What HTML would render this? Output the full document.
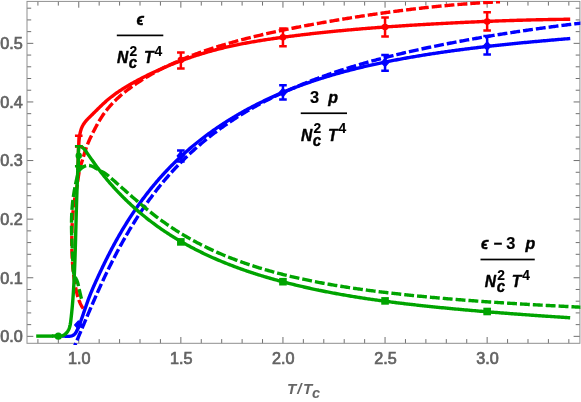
<!DOCTYPE html>
<html><head><meta charset="utf-8"><title>plot</title>
<style>html,body{margin:0;padding:0;background:#fff;width:581px;height:402px;overflow:hidden;font-family:"Liberation Sans",sans-serif}</style>
</head><body>
<div style="will-change:transform;position:absolute;left:0;top:0;width:581px;height:402px">
<svg width="581" height="402" viewBox="0 0 581 402" style="position:absolute;left:0;top:0">
<defs><clipPath id="cp"><rect x="27.0" y="0.8999999999999999" width="553.4" height="344.1"/></clipPath></defs>
<rect width="581" height="402" fill="#fff"/>
<path d="M37.91,343.3 v-4.2 M37.91,1.4 v4.2 M58.33,343.3 v-4.2 M58.33,1.4 v4.2 M78.75,343.3 v-6.3 M78.75,1.4 v6.3 M99.17,343.3 v-4.2 M99.17,1.4 v4.2 M119.59,343.3 v-4.2 M119.59,1.4 v4.2 M140.01,343.3 v-4.2 M140.01,1.4 v4.2 M160.43,343.3 v-4.2 M160.43,1.4 v4.2 M180.85,343.3 v-6.3 M180.85,1.4 v6.3 M201.27,343.3 v-4.2 M201.27,1.4 v4.2 M221.69,343.3 v-4.2 M221.69,1.4 v4.2 M242.11,343.3 v-4.2 M242.11,1.4 v4.2 M262.53,343.3 v-4.2 M262.53,1.4 v4.2 M282.95,343.3 v-6.3 M282.95,1.4 v6.3 M303.37,343.3 v-4.2 M303.37,1.4 v4.2 M323.79,343.3 v-4.2 M323.79,1.4 v4.2 M344.21,343.3 v-4.2 M344.21,1.4 v4.2 M364.63,343.3 v-4.2 M364.63,1.4 v4.2 M385.05,343.3 v-6.3 M385.05,1.4 v6.3 M405.47,343.3 v-4.2 M405.47,1.4 v4.2 M425.89,343.3 v-4.2 M425.89,1.4 v4.2 M446.31,343.3 v-4.2 M446.31,1.4 v4.2 M466.73,343.3 v-4.2 M466.73,1.4 v4.2 M487.15,343.3 v-6.3 M487.15,1.4 v6.3 M507.57,343.3 v-4.2 M507.57,1.4 v4.2 M527.99,343.3 v-4.2 M527.99,1.4 v4.2 M548.41,343.3 v-4.2 M548.41,1.4 v4.2 M568.83,343.3 v-4.2 M568.83,1.4 v4.2 M27.0,336.35 h6.3 M579.9,336.35 h-6.3 M27.0,324.63 h4.2 M579.9,324.63 h-4.2 M27.0,312.91 h4.2 M579.9,312.91 h-4.2 M27.0,301.19 h4.2 M579.9,301.19 h-4.2 M27.0,289.47 h4.2 M579.9,289.47 h-4.2 M27.0,277.75 h6.3 M579.9,277.75 h-6.3 M27.0,266.03 h4.2 M579.9,266.03 h-4.2 M27.0,254.31 h4.2 M579.9,254.31 h-4.2 M27.0,242.59 h4.2 M579.9,242.59 h-4.2 M27.0,230.87 h4.2 M579.9,230.87 h-4.2 M27.0,219.15 h6.3 M579.9,219.15 h-6.3 M27.0,207.43 h4.2 M579.9,207.43 h-4.2 M27.0,195.71 h4.2 M579.9,195.71 h-4.2 M27.0,183.99 h4.2 M579.9,183.99 h-4.2 M27.0,172.27 h4.2 M579.9,172.27 h-4.2 M27.0,160.55 h6.3 M579.9,160.55 h-6.3 M27.0,148.83 h4.2 M579.9,148.83 h-4.2 M27.0,137.11 h4.2 M579.9,137.11 h-4.2 M27.0,125.39 h4.2 M579.9,125.39 h-4.2 M27.0,113.67 h4.2 M579.9,113.67 h-4.2 M27.0,101.95 h6.3 M579.9,101.95 h-6.3 M27.0,90.23 h4.2 M579.9,90.23 h-4.2 M27.0,78.51 h4.2 M579.9,78.51 h-4.2 M27.0,66.79 h4.2 M579.9,66.79 h-4.2 M27.0,55.07 h4.2 M579.9,55.07 h-4.2 M27.0,43.35 h6.3 M579.9,43.35 h-6.3 M27.0,31.63 h4.2 M579.9,31.63 h-4.2 M27.0,19.91 h4.2 M579.9,19.91 h-4.2 M27.0,8.19 h4.2 M579.9,8.19 h-4.2" stroke="#606060" stroke-width="0.9" fill="none"/>
<rect x="27.0" y="1.4" width="552.9" height="341.90000000000003" fill="none" stroke="#8f8f8f" stroke-width="1"/>
<g clip-path="url(#cp)" fill="none" stroke-linejoin="round">
<path d="M77.80,170.00 L77.86,168.78 L77.92,167.57 L77.97,166.36 L78.02,165.16 L78.06,163.95 L78.10,162.75 L78.14,161.55 L78.17,160.35 L78.20,159.15 L78.23,157.95 L78.27,156.76 L78.30,155.56 L78.33,154.36 L78.37,153.17 L78.41,151.97 L78.45,150.77 L78.50,149.58 L78.55,148.38 L78.60,147.18 L78.67,145.97 L78.74,144.77 L78.82,143.56 L78.91,142.36 L79.01,141.15 L79.12,139.94 L79.25,138.74 L79.40,137.53 L79.56,136.33 L79.75,135.12 L79.95,133.93 L80.19,132.74 L80.47,131.57 L80.78,130.41 L81.14,129.27 L81.55,128.15 L82.02,127.06 L82.54,126.00 L83.11,124.97 L83.73,123.96 L84.39,122.98 L85.10,122.02 L85.85,121.09 L86.64,120.19 L87.45,119.31 L88.29,118.44 L89.15,117.58 L90.02,116.74 L90.89,115.89 L91.76,115.04 L92.62,114.19 L93.49,113.34 L94.35,112.49 L95.21,111.63 L96.07,110.78 L96.92,109.93 L97.78,109.08 L98.64,108.23 L99.50,107.39 L100.36,106.55 L101.23,105.71 L102.10,104.88 L102.98,104.06 L103.86,103.24 L104.74,102.43 L105.64,101.63 L106.53,100.84 L107.44,100.06 L108.36,99.28 L109.28,98.52 L110.21,97.77 L111.15,97.03 L112.10,96.30 L113.05,95.57 L114.02,94.86 L114.98,94.15 L115.96,93.45 L116.94,92.76 L117.93,92.08 L118.92,91.41 L119.92,90.74 L120.92,90.08 L121.93,89.43 L122.95,88.79 L123.97,88.15 L124.99,87.52 L126.02,86.89 L127.05,86.27 L128.09,85.66 L129.13,85.05 L130.17,84.45 L131.22,83.85 L132.27,83.26 L133.32,82.67 L134.38,82.09 L135.44,81.51 L136.50,80.94 L137.56,80.37 L138.62,79.80 L139.69,79.24 L140.76,78.68 L141.83,78.12 L142.90,77.57 L143.97,77.02 L145.05,76.48 L146.13,75.93 L147.21,75.40 L148.29,74.86 L149.37,74.33 L150.45,73.81 L151.54,73.29 L152.63,72.77 L153.72,72.25 L154.81,71.74 L155.90,71.24 L157.00,70.73 L158.09,70.23 L159.19,69.74 L160.29,69.25 L161.39,68.76 L162.49,68.27 L163.60,67.79 L164.70,67.32 L165.81,66.84 L166.92,66.37 L168.03,65.91 L169.14,65.45 L170.26,64.99 L171.37,64.53 L172.49,64.08 L173.61,63.64 L174.73,63.19 L175.85,62.75 L176.97,62.32 L178.09,61.89 L179.22,61.46 L180.34,61.04 L181.47,60.62 L182.60,60.20 L183.73,59.79 L184.86,59.38 L186.00,58.97 L187.13,58.57 L188.27,58.17 L189.40,57.78 L190.54,57.39 L191.68,57.00 L192.82,56.62 L193.96,56.24 L195.11,55.87 L196.25,55.50 L197.40,55.13 L198.54,54.76 L199.69,54.40 L200.84,54.05 L201.99,53.70 L203.14,53.35 L204.30,53.00 L205.45,52.66 L206.60,52.33 L207.76,51.99 L208.92,51.66 L210.07,51.34 L211.23,51.01 L212.39,50.70 L213.55,50.38 L214.71,50.07 L215.88,49.77 L217.04,49.46 L218.20,49.16 L219.37,48.87 L220.54,48.58 L221.70,48.29 L222.87,48.00 L224.04,47.72 L225.21,47.45 L226.38,47.17 L227.55,46.90 L228.72,46.63 L229.90,46.37 L231.07,46.11 L232.25,45.85 L233.42,45.60 L234.60,45.35 L235.77,45.10 L236.95,44.86 L238.13,44.61 L239.31,44.37 L240.49,44.14 L241.67,43.91 L242.85,43.68 L244.03,43.45 L245.21,43.22 L246.39,43.00 L247.58,42.78 L248.76,42.57 L249.94,42.35 L251.13,42.14 L252.31,41.93 L253.50,41.73 L254.69,41.52 L255.87,41.32 L257.06,41.12 L258.25,40.92 L259.44,40.73 L260.62,40.53 L261.81,40.34 L263.00,40.15 L264.19,39.97 L265.38,39.78 L266.57,39.60 L267.76,39.42 L268.96,39.24 L270.15,39.06 L271.34,38.89 L272.53,38.71 L273.72,38.54 L274.92,38.37 L276.11,38.20 L277.30,38.03 L278.49,37.87 L279.69,37.70 L280.88,37.54 L282.07,37.38 L283.27,37.21 L284.46,37.05 L285.66,36.90 L286.85,36.74 L288.04,36.58 L289.24,36.43 L290.43,36.27 L291.63,36.12 L292.82,35.97 L294.02,35.82 L295.21,35.67 L296.41,35.52 L297.60,35.37 L298.80,35.22 L299.99,35.08 L301.19,34.93 L302.38,34.79 L303.58,34.65 L304.77,34.51 L305.97,34.37 L307.17,34.23 L308.36,34.09 L309.56,33.95 L310.75,33.81 L311.95,33.68 L313.15,33.54 L314.34,33.41 L315.54,33.28 L316.74,33.14 L317.93,33.01 L319.13,32.88 L320.32,32.75 L321.52,32.63 L322.72,32.50 L323.92,32.37 L325.11,32.25 L326.31,32.12 L327.51,32.00 L328.70,31.88 L329.90,31.76 L331.10,31.63 L332.30,31.51 L333.49,31.40 L334.69,31.28 L335.89,31.16 L337.09,31.04 L338.28,30.93 L339.48,30.81 L340.68,30.70 L341.88,30.59 L343.08,30.47 L344.27,30.36 L345.47,30.25 L346.67,30.14 L347.87,30.03 L349.07,29.92 L350.27,29.82 L351.46,29.71 L352.66,29.60 L353.86,29.50 L355.06,29.39 L356.26,29.29 L357.46,29.19 L358.66,29.09 L359.86,28.98 L361.05,28.88 L362.25,28.78 L363.45,28.68 L364.65,28.59 L365.85,28.49 L367.05,28.39 L368.25,28.29 L369.45,28.20 L370.65,28.10 L371.85,28.01 L373.05,27.92 L374.25,27.82 L375.45,27.73 L376.65,27.64 L377.85,27.55 L379.05,27.46 L380.25,27.37 L381.45,27.28 L382.65,27.19 L383.85,27.10 L385.05,27.02 L386.25,26.93 L387.45,26.84 L388.65,26.76 L389.85,26.67 L391.05,26.59 L392.25,26.51 L393.45,26.42 L394.65,26.34 L395.85,26.26 L397.05,26.18 L398.25,26.10 L399.45,26.02 L400.65,25.94 L401.85,25.86 L403.05,25.78 L404.26,25.70 L405.46,25.63 L406.66,25.55 L407.86,25.47 L409.06,25.40 L410.26,25.32 L411.46,25.25 L412.66,25.17 L413.86,25.10 L415.06,25.02 L416.27,24.95 L417.47,24.88 L418.67,24.81 L419.87,24.74 L421.07,24.66 L422.27,24.59 L423.47,24.52 L424.68,24.45 L425.88,24.38 L427.08,24.32 L428.28,24.25 L429.48,24.18 L430.68,24.11 L431.88,24.04 L433.09,23.98 L434.29,23.91 L435.49,23.84 L436.69,23.78 L437.89,23.71 L439.10,23.65 L440.30,23.58 L441.50,23.52 L442.70,23.46 L443.90,23.39 L445.10,23.33 L446.31,23.27 L447.51,23.20 L448.71,23.14 L449.91,23.08 L451.12,23.02 L452.32,22.96 L453.52,22.90 L454.72,22.84 L455.92,22.78 L457.13,22.72 L458.33,22.66 L459.53,22.60 L460.73,22.54 L461.93,22.49 L463.14,22.43 L464.34,22.37 L465.54,22.32 L466.74,22.26 L467.95,22.20 L469.15,22.15 L470.35,22.09 L471.55,22.04 L472.76,21.99 L473.96,21.93 L475.16,21.88 L476.36,21.83 L477.57,21.78 L478.77,21.72 L479.97,21.67 L481.17,21.62 L482.38,21.57 L483.58,21.52 L484.78,21.47 L485.98,21.42 L487.19,21.38 L488.39,21.33 L489.59,21.28 L490.80,21.23 L492.00,21.19 L493.20,21.14 L494.40,21.09 L495.61,21.05 L496.81,21.01 L498.01,20.96 L499.21,20.92 L500.42,20.87 L501.62,20.83 L502.82,20.79 L504.03,20.75 L505.23,20.71 L506.43,20.66 L507.63,20.62 L508.84,20.58 L510.04,20.55 L511.24,20.51 L512.45,20.47 L513.65,20.43 L514.85,20.39 L516.06,20.36 L517.26,20.32 L518.46,20.28 L519.66,20.25 L520.87,20.21 L522.07,20.18 L523.27,20.15 L524.48,20.11 L525.68,20.08 L526.88,20.05 L528.09,20.02 L529.29,19.98 L530.49,19.95 L531.70,19.92 L532.90,19.89 L534.10,19.87 L535.31,19.84 L536.51,19.81 L537.71,19.78 L538.91,19.76 L540.12,19.73 L541.32,19.70 L542.52,19.68 L543.73,19.65 L544.93,19.63 L546.13,19.61 L547.34,19.58 L548.54,19.56 L549.74,19.54 L550.95,19.52 L552.15,19.50 L553.35,19.48 L554.56,19.46 L555.76,19.44 L556.96,19.42 L558.17,19.40 L559.37,19.39 L560.57,19.37 L561.78,19.35 L562.98,19.34 L564.18,19.32 L565.39,19.31 L566.59,19.30 L567.79,19.28 L569.00,19.27 L570.20,19.26" stroke="#ff0000" stroke-width="3.4"/>
<path d="M83.30,308.60 L82.61,307.61 L81.96,306.59 L81.36,305.55 L80.80,304.49 L80.27,303.41 L79.78,302.32 L79.33,301.21 L78.90,300.09 L78.50,298.96 L78.13,297.81 L77.78,296.66 L77.45,295.50 L77.14,294.33 L76.85,293.16 L76.57,291.99 L76.30,290.81 L76.04,289.64 L75.79,288.46 L75.55,287.28 L75.33,286.10 L75.11,284.91 L74.90,283.73 L74.70,282.54 L74.51,281.36 L74.33,280.17 L74.16,278.98 L74.00,277.79 L73.84,276.60 L73.69,275.41 L73.55,274.21 L73.42,273.02 L73.29,271.82 L73.16,270.63 L73.05,269.43 L72.94,268.23 L72.83,267.04 L72.73,265.84 L72.64,264.64 L72.55,263.44 L72.47,262.24 L72.39,261.04 L72.31,259.84 L72.24,258.64 L72.18,257.43 L72.12,256.23 L72.07,255.03 L72.02,253.83 L71.97,252.62 L71.93,251.42 L71.90,250.22 L71.87,249.01 L71.84,247.81 L71.82,246.61 L71.80,245.40 L71.79,244.20 L71.78,242.99 L71.78,241.79 L71.78,240.58 L71.79,239.38 L71.79,238.18 L71.81,236.97 L71.82,235.77 L71.85,234.56 L71.87,233.36 L71.90,232.16 L71.93,230.95 L71.97,229.75 L72.01,228.55 L72.06,227.35 L72.10,226.15 L72.16,224.94 L72.21,223.74 L72.28,222.54 L72.34,221.34 L72.41,220.14 L72.49,218.94 L72.57,217.74 L72.66,216.55 L72.75,215.35 L72.85,214.15 L72.95,212.96 L73.06,211.76 L73.18,210.57 L73.30,209.37 L73.44,208.18 L73.57,206.98 L73.72,205.79 L73.87,204.60 L74.03,203.41 L74.20,202.22 L74.38,201.03 L74.57,199.84 L74.76,198.65 L74.96,197.47 L75.16,196.28 L75.37,195.09 L75.58,193.91 L75.80,192.72 L76.01,191.53 L76.22,190.35 L76.44,189.16 L76.65,187.97 L76.85,186.79 L77.05,185.60 L77.25,184.41 L77.44,183.22 L77.62,182.03 L77.79,180.83 L77.96,179.64 L78.12,178.45 L78.29,177.25 L78.46,176.06 L78.64,174.88 L78.83,173.69 L79.04,172.51 L79.26,171.33 L79.51,170.16 L79.78,168.99 L80.07,167.83 L80.39,166.67 L80.72,165.52 L81.06,164.37 L81.42,163.22 L81.78,162.07 L82.14,160.92 L82.50,159.77 L82.85,158.62 L83.20,157.46 L83.55,156.31 L83.90,155.15 L84.25,154.00 L84.60,152.84 L84.96,151.69 L85.32,150.55 L85.70,149.40 L86.08,148.27 L86.48,147.13 L86.89,146.01 L87.32,144.89 L87.76,143.78 L88.22,142.68 L88.68,141.58 L89.16,140.48 L89.65,139.39 L90.16,138.31 L90.67,137.22 L91.19,136.14 L91.71,135.07 L92.25,133.99 L92.79,132.92 L93.33,131.85 L93.89,130.77 L94.44,129.70 L95.00,128.63 L95.56,127.56 L96.13,126.49 L96.70,125.42 L97.29,124.36 L97.87,123.30 L98.47,122.25 L99.08,121.20 L99.69,120.16 L100.32,119.12 L100.95,118.10 L101.60,117.08 L102.26,116.08 L102.94,115.08 L103.63,114.09 L104.33,113.12 L105.04,112.15 L105.76,111.20 L106.50,110.25 L107.24,109.31 L108.00,108.39 L108.77,107.47 L109.55,106.56 L110.35,105.67 L111.15,104.78 L111.96,103.90 L112.78,103.03 L113.61,102.17 L114.46,101.31 L115.31,100.47 L116.17,99.64 L117.04,98.81 L117.91,97.99 L118.80,97.18 L119.69,96.38 L120.60,95.58 L121.51,94.80 L122.42,94.02 L123.35,93.25 L124.28,92.48 L125.22,91.73 L126.17,90.98 L127.12,90.24 L128.08,89.51 L129.04,88.78 L130.01,88.06 L130.99,87.35 L131.97,86.64 L132.95,85.94 L133.94,85.25 L134.94,84.56 L135.94,83.88 L136.94,83.21 L137.95,82.54 L138.96,81.88 L139.98,81.22 L141.00,80.57 L142.02,79.92 L143.04,79.29 L144.07,78.65 L145.10,78.02 L146.13,77.40 L147.17,76.78 L148.20,76.17 L149.24,75.56 L150.29,74.96 L151.33,74.37 L152.38,73.77 L153.43,73.19 L154.49,72.61 L155.54,72.03 L156.60,71.46 L157.66,70.89 L158.72,70.33 L159.79,69.78 L160.86,69.22 L161.93,68.68 L163.00,68.14 L164.07,67.60 L165.15,67.07 L166.23,66.54 L167.31,66.02 L168.39,65.50 L169.48,64.98 L170.57,64.47 L171.66,63.97 L172.75,63.47 L173.84,62.97 L174.94,62.48 L176.04,61.99 L177.13,61.51 L178.24,61.03 L179.34,60.55 L180.44,60.08 L181.55,59.62 L182.66,59.15 L183.77,58.69 L184.88,58.24 L186.00,57.79 L187.11,57.34 L188.23,56.90 L189.35,56.46 L190.47,56.02 L191.59,55.59 L192.71,55.16 L193.84,54.74 L194.96,54.32 L196.09,53.90 L197.22,53.49 L198.35,53.08 L199.48,52.67 L200.62,52.27 L201.75,51.87 L202.89,51.47 L204.03,51.08 L205.16,50.69 L206.30,50.30 L207.44,49.92 L208.59,49.53 L209.73,49.16 L210.87,48.78 L212.02,48.41 L213.17,48.04 L214.31,47.68 L215.46,47.31 L216.61,46.95 L217.76,46.60 L218.91,46.24 L220.06,45.89 L221.22,45.54 L222.37,45.20 L223.52,44.85 L224.68,44.51 L225.83,44.17 L226.99,43.84 L228.15,43.50 L229.30,43.17 L230.46,42.84 L231.62,42.52 L232.78,42.19 L233.94,41.87 L235.10,41.55 L236.26,41.23 L237.42,40.92 L238.59,40.60 L239.75,40.29 L240.91,39.98 L242.07,39.68 L243.24,39.37 L244.40,39.07 L245.57,38.77 L246.73,38.47 L247.90,38.17 L249.07,37.88 L250.23,37.59 L251.40,37.30 L252.57,37.01 L253.74,36.72 L254.91,36.44 L256.07,36.15 L257.24,35.87 L258.41,35.59 L259.58,35.32 L260.76,35.04 L261.93,34.77 L263.10,34.49 L264.27,34.22 L265.44,33.96 L266.62,33.69 L267.79,33.42 L268.96,33.16 L270.14,32.90 L271.31,32.64 L272.49,32.38 L273.66,32.12 L274.84,31.87 L276.01,31.61 L277.19,31.36 L278.36,31.11 L279.54,30.86 L280.72,30.61 L281.90,30.36 L283.07,30.12 L284.25,29.87 L285.43,29.63 L286.61,29.39 L287.79,29.15 L288.97,28.91 L290.15,28.68 L291.33,28.44 L292.51,28.21 L293.69,27.97 L294.87,27.74 L296.05,27.51 L297.23,27.28 L298.41,27.05 L299.59,26.82 L300.77,26.60 L301.96,26.37 L303.14,26.15 L304.32,25.92 L305.50,25.70 L306.69,25.48 L307.87,25.26 L309.05,25.04 L310.23,24.82 L311.42,24.60 L312.60,24.39 L313.79,24.17 L314.97,23.96 L316.15,23.74 L317.34,23.53 L318.52,23.32 L319.71,23.11 L320.89,22.90 L322.08,22.69 L323.26,22.48 L324.45,22.27 L325.63,22.06 L326.82,21.85 L328.00,21.65 L329.19,21.44 L330.38,21.24 L331.56,21.03 L332.75,20.83 L333.93,20.63 L335.12,20.43 L336.31,20.23 L337.49,20.03 L338.68,19.83 L339.87,19.63 L341.05,19.43 L342.24,19.23 L343.43,19.04 L344.62,18.84 L345.80,18.65 L346.99,18.45 L348.18,18.26 L349.37,18.07 L350.56,17.88 L351.74,17.69 L352.93,17.50 L354.12,17.31 L355.31,17.12 L356.50,16.93 L357.69,16.75 L358.88,16.56 L360.06,16.38 L361.25,16.19 L362.44,16.01 L363.63,15.83 L364.82,15.65 L366.01,15.47 L367.20,15.29 L368.39,15.11 L369.58,14.93 L370.77,14.76 L371.96,14.58 L373.15,14.41 L374.34,14.23 L375.53,14.06 L376.72,13.89 L377.91,13.72 L379.11,13.55 L380.30,13.38 L381.49,13.21 L382.68,13.04 L383.87,12.87 L385.06,12.71 L386.25,12.54 L387.45,12.38 L388.64,12.22 L389.83,12.05 L391.02,11.89 L392.21,11.73 L393.41,11.57 L394.60,11.42 L395.79,11.26 L396.98,11.10 L398.18,10.95 L399.37,10.79 L400.56,10.64 L401.76,10.49 L402.95,10.34 L404.14,10.19 L405.34,10.04 L406.53,9.89 L407.73,9.74 L408.92,9.59 L410.11,9.45 L411.31,9.31 L412.50,9.16 L413.70,9.02 L414.89,8.88 L416.09,8.74 L417.28,8.60 L418.48,8.46 L419.67,8.33 L420.87,8.19 L422.06,8.05 L423.26,7.92 L424.45,7.79 L425.65,7.66 L426.84,7.53 L428.04,7.40 L429.24,7.27 L430.43,7.14 L431.63,7.01 L432.83,6.89 L434.02,6.77 L435.22,6.64 L436.42,6.52 L437.61,6.40 L438.81,6.28 L440.01,6.16 L441.20,6.04 L442.40,5.93 L443.60,5.81 L444.80,5.70 L445.99,5.59 L447.19,5.47 L448.39,5.36 L449.59,5.25 L450.79,5.15 L451.98,5.04 L453.18,4.93 L454.38,4.83 L455.58,4.72 L456.78,4.62 L457.98,4.52 L459.18,4.42 L460.38,4.32 L461.58,4.22 L462.77,4.13 L463.97,4.03 L465.17,3.94 L466.37,3.84 L467.57,3.75 L468.77,3.66 L469.97,3.57 L471.17,3.48 L472.37,3.40 L473.57,3.31 L474.77,3.23 L475.98,3.14 L477.18,3.06 L478.38,2.98 L479.58,2.90 L480.78,2.82 L481.98,2.75 L483.18,2.67 L484.38,2.60 L485.58,2.52 L486.79,2.45 L487.99,2.38 L489.19,2.31 L490.39,2.24 L491.59,2.18 L492.80,2.11 L494.00,2.05 L495.20,1.98 L496.40,1.92 L497.61,1.86 L498.81,1.80 L500.01,1.74" stroke="#ff0000" stroke-width="3.4" stroke-dasharray="9.9 3.0" stroke-dashoffset="0"/>
<path d="M61.96,336.01 L63.13,336.04 L64.35,336.12 L65.61,336.22 L66.89,336.31 L68.16,336.35 L69.39,336.32 L70.57,336.17 L71.69,335.91 L72.73,335.52 L73.68,334.98 L74.53,334.29 L75.28,333.45 L75.95,332.50 L76.55,331.47 L77.09,330.37 L77.60,329.23 L78.09,328.08 L78.55,326.94 L79.01,325.80 L79.45,324.66 L79.89,323.53 L80.31,322.39 L80.73,321.26 L81.14,320.13 L81.54,318.99 L81.94,317.85 L82.34,316.72 L82.74,315.58 L83.13,314.44 L83.52,313.31 L83.91,312.17 L84.30,311.03 L84.69,309.89 L85.08,308.75 L85.47,307.62 L85.86,306.48 L86.25,305.34 L86.65,304.21 L87.05,303.08 L87.45,301.94 L87.86,300.81 L88.27,299.69 L88.69,298.56 L89.12,297.43 L89.55,296.31 L89.99,295.19 L90.43,294.07 L90.88,292.96 L91.34,291.84 L91.80,290.73 L92.27,289.62 L92.75,288.51 L93.22,287.41 L93.71,286.30 L94.19,285.20 L94.68,284.09 L95.18,282.99 L95.67,281.89 L96.17,280.80 L96.67,279.70 L97.17,278.60 L97.68,277.51 L98.18,276.41 L98.69,275.32 L99.20,274.23 L99.71,273.13 L100.22,272.04 L100.73,270.95 L101.25,269.86 L101.77,268.78 L102.29,267.69 L102.81,266.60 L103.33,265.52 L103.86,264.44 L104.38,263.35 L104.91,262.27 L105.45,261.19 L105.98,260.11 L106.52,259.04 L107.05,257.96 L107.59,256.89 L108.14,255.81 L108.68,254.74 L109.23,253.67 L109.78,252.60 L110.34,251.53 L110.89,250.46 L111.45,249.40 L112.01,248.33 L112.58,247.27 L113.14,246.21 L113.71,245.15 L114.28,244.09 L114.86,243.03 L115.44,241.98 L116.02,240.93 L116.61,239.87 L117.19,238.82 L117.78,237.77 L118.38,236.73 L118.97,235.68 L119.58,234.64 L120.18,233.59 L120.79,232.55 L121.40,231.51 L122.01,230.48 L122.62,229.44 L123.24,228.41 L123.87,227.37 L124.49,226.34 L125.12,225.32 L125.75,224.29 L126.39,223.27 L127.03,222.24 L127.67,221.22 L128.32,220.21 L128.97,219.19 L129.62,218.18 L130.27,217.16 L130.93,216.15 L131.59,215.15 L132.26,214.14 L132.93,213.14 L133.60,212.14 L134.27,211.14 L134.95,210.14 L135.64,209.15 L136.32,208.16 L137.01,207.17 L137.70,206.18 L138.40,205.20 L139.10,204.22 L139.80,203.24 L140.50,202.26 L141.21,201.29 L141.93,200.31 L142.64,199.35 L143.36,198.38 L144.08,197.42 L144.81,196.46 L145.54,195.50 L146.27,194.54 L147.01,193.59 L147.75,192.64 L148.49,191.69 L149.24,190.75 L149.99,189.81 L150.75,188.87 L151.50,187.93 L152.27,187.00 L153.03,186.07 L153.80,185.14 L154.57,184.22 L155.35,183.30 L156.12,182.38 L156.91,181.47 L157.69,180.56 L158.48,179.65 L159.28,178.74 L160.07,177.84 L160.87,176.94 L161.68,176.05 L162.49,175.15 L163.30,174.27 L164.11,173.38 L164.93,172.50 L165.75,171.62 L166.58,170.74 L167.40,169.87 L168.24,169.00 L169.07,168.13 L169.91,167.27 L170.75,166.41 L171.60,165.56 L172.45,164.70 L173.30,163.85 L174.15,163.01 L175.01,162.17 L175.88,161.33 L176.74,160.49 L177.61,159.66 L178.48,158.83 L179.36,158.00 L180.24,157.18 L181.12,156.36 L182.00,155.55 L182.89,154.74 L183.78,153.93 L184.68,153.12 L185.58,152.32 L186.48,151.52 L187.38,150.73 L188.29,149.94 L189.20,149.15 L190.11,148.37 L191.03,147.59 L191.95,146.81 L192.88,146.04 L193.80,145.27 L194.73,144.51 L195.66,143.74 L196.60,142.99 L197.54,142.23 L198.48,141.48 L199.42,140.73 L200.37,139.99 L201.32,139.25 L202.28,138.51 L203.23,137.78 L204.19,137.05 L205.15,136.33 L206.12,135.61 L207.09,134.89 L208.06,134.17 L209.03,133.46 L210.01,132.76 L210.99,132.05 L211.97,131.35 L212.95,130.66 L213.94,129.96 L214.93,129.27 L215.92,128.59 L216.91,127.91 L217.91,127.23 L218.91,126.55 L219.91,125.88 L220.92,125.22 L221.92,124.55 L222.93,123.89 L223.95,123.24 L224.96,122.58 L225.98,121.93 L227.00,121.29 L228.02,120.64 L229.04,120.01 L230.07,119.37 L231.09,118.74 L232.12,118.11 L233.16,117.49 L234.19,116.87 L235.23,116.25 L236.27,115.63 L237.31,115.02 L238.35,114.42 L239.40,113.81 L240.44,113.21 L241.49,112.62 L242.54,112.02 L243.60,111.43 L244.65,110.85 L245.71,110.27 L246.77,109.69 L247.83,109.11 L248.89,108.54 L249.95,107.97 L251.02,107.41 L252.09,106.85 L253.16,106.29 L254.23,105.73 L255.30,105.18 L256.37,104.64 L257.45,104.09 L258.53,103.55 L259.61,103.02 L260.69,102.48 L261.77,101.95 L262.85,101.43 L263.94,100.90 L265.03,100.38 L266.11,99.87 L267.20,99.35 L268.29,98.84 L269.39,98.34 L270.48,97.84 L271.57,97.34 L272.67,96.84 L273.77,96.35 L274.87,95.86 L275.97,95.37 L277.07,94.89 L278.17,94.41 L279.28,93.94 L280.38,93.47 L281.49,93.00 L282.60,92.53 L283.71,92.07 L284.82,91.61 L285.93,91.15 L287.04,90.70 L288.16,90.25 L289.27,89.80 L290.39,89.36 L291.51,88.92 L292.63,88.48 L293.75,88.05 L294.87,87.61 L295.99,87.19 L297.11,86.76 L298.24,86.34 L299.36,85.92 L300.49,85.50 L301.62,85.09 L302.75,84.68 L303.88,84.27 L305.01,83.87 L306.14,83.46 L307.28,83.07 L308.41,82.67 L309.55,82.28 L310.68,81.89 L311.82,81.50 L312.96,81.11 L314.10,80.73 L315.24,80.35 L316.38,79.98 L317.52,79.60 L318.67,79.23 L319.81,78.86 L320.96,78.50 L322.10,78.13 L323.25,77.77 L324.40,77.42 L325.55,77.06 L326.70,76.71 L327.85,76.36 L329.00,76.01 L330.15,75.67 L331.31,75.33 L332.46,74.99 L333.61,74.65 L334.77,74.32 L335.93,73.98 L337.08,73.65 L338.24,73.33 L339.40,73.00 L340.56,72.68 L341.72,72.36 L342.88,72.04 L344.05,71.73 L345.21,71.42 L346.37,71.10 L347.54,70.80 L348.70,70.49 L349.87,70.19 L351.03,69.89 L352.20,69.59 L353.37,69.29 L354.54,69.00 L355.71,68.70 L356.88,68.41 L358.05,68.13 L359.22,67.84 L360.39,67.56 L361.56,67.28 L362.73,67.00 L363.91,66.72 L365.08,66.44 L366.25,66.17 L367.43,65.90 L368.60,65.63 L369.78,65.36 L370.96,65.10 L372.13,64.84 L373.31,64.58 L374.49,64.32 L375.67,64.06 L376.85,63.80 L378.03,63.55 L379.21,63.30 L380.39,63.05 L381.57,62.80 L382.75,62.56 L383.93,62.31 L385.11,62.07 L386.30,61.83 L387.48,61.59 L388.66,61.35 L389.85,61.12 L391.03,60.89 L392.21,60.65 L393.40,60.42 L394.58,60.20 L395.77,59.97 L396.96,59.75 L398.14,59.52 L399.33,59.30 L400.51,59.08 L401.70,58.86 L402.89,58.64 L404.08,58.43 L405.26,58.22 L406.45,58.00 L407.64,57.79 L408.83,57.58 L410.02,57.38 L411.20,57.17 L412.39,56.96 L413.58,56.76 L414.77,56.56 L415.96,56.36 L417.15,56.16 L418.34,55.96 L419.53,55.76 L420.72,55.57 L421.91,55.37 L423.10,55.18 L424.29,54.99 L425.48,54.80 L426.67,54.61 L427.86,54.42 L429.05,54.24 L430.24,54.05 L431.43,53.87 L432.62,53.69 L433.81,53.50 L435.01,53.32 L436.20,53.15 L437.39,52.97 L438.58,52.79 L439.77,52.61 L440.96,52.44 L442.15,52.27 L443.34,52.09 L444.53,51.92 L445.73,51.75 L446.92,51.58 L448.11,51.42 L449.30,51.25 L450.49,51.08 L451.68,50.92 L452.88,50.76 L454.07,50.59 L455.26,50.43 L456.45,50.27 L457.64,50.11 L458.84,49.95 L460.03,49.80 L461.22,49.64 L462.41,49.48 L463.61,49.33 L464.80,49.18 L465.99,49.02 L467.19,48.87 L468.38,48.72 L469.57,48.57 L470.77,48.42 L471.96,48.27 L473.15,48.13 L474.35,47.98 L475.54,47.84 L476.73,47.69 L477.93,47.55 L479.12,47.41 L480.32,47.27 L481.51,47.12 L482.70,46.98 L483.90,46.85 L485.09,46.71 L486.29,46.57 L487.48,46.43 L488.68,46.30 L489.87,46.16 L491.07,46.03 L492.26,45.90 L493.46,45.76 L494.65,45.63 L495.85,45.50 L497.04,45.37 L498.24,45.24 L499.43,45.11 L500.63,44.98 L501.83,44.86 L503.02,44.73 L504.22,44.60 L505.42,44.48 L506.61,44.36 L507.81,44.23 L509.01,44.11 L510.20,43.99 L511.40,43.86 L512.60,43.74 L513.79,43.62 L514.99,43.50 L516.19,43.38 L517.39,43.26 L518.59,43.15 L519.78,43.03 L520.98,42.91 L522.18,42.80 L523.38,42.68 L524.58,42.56 L525.78,42.45 L526.97,42.34 L528.17,42.22 L529.37,42.11 L530.57,42.00 L531.77,41.89 L532.97,41.77 L534.17,41.66 L535.37,41.55 L536.57,41.44 L537.77,41.33 L538.97,41.22 L540.17,41.12 L541.37,41.01 L542.57,40.90 L543.77,40.79 L544.98,40.69 L546.18,40.58 L547.38,40.47 L548.58,40.37 L549.78,40.26 L550.98,40.16 L552.18,40.05 L553.39,39.95 L554.59,39.84 L555.79,39.74 L556.99,39.64 L558.20,39.54 L559.40,39.43 L560.60,39.33 L561.81,39.23 L563.01,39.13 L564.21,39.03 L565.42,38.93 L566.62,38.82 L567.83,38.72 L569.03,38.62 L570.24,38.52" stroke="#0000ff" stroke-width="3.4"/>
<path d="M74.47,346.29 L74.94,345.19 L75.40,344.09 L75.87,342.99 L76.34,341.89 L76.81,340.79 L77.27,339.69 L77.74,338.59 L78.20,337.49 L78.67,336.39 L79.14,335.29 L79.60,334.19 L80.07,333.08 L80.53,331.98 L81.00,330.88 L81.46,329.77 L81.93,328.67 L82.40,327.56 L82.86,326.46 L83.33,325.36 L83.79,324.25 L84.26,323.15 L84.73,322.04 L85.20,320.94 L85.66,319.83 L86.13,318.73 L86.60,317.62 L87.07,316.52 L87.54,315.41 L88.01,314.30 L88.48,313.20 L88.95,312.09 L89.43,310.99 L89.90,309.88 L90.37,308.78 L90.85,307.67 L91.32,306.57 L91.80,305.47 L92.28,304.36 L92.76,303.26 L93.24,302.15 L93.72,301.05 L94.20,299.95 L94.68,298.85 L95.17,297.74 L95.65,296.64 L96.14,295.54 L96.63,294.44 L97.12,293.34 L97.61,292.24 L98.10,291.14 L98.60,290.04 L99.09,288.94 L99.59,287.84 L100.09,286.75 L100.59,285.65 L101.09,284.55 L101.59,283.46 L102.10,282.36 L102.61,281.27 L103.12,280.17 L103.63,279.08 L104.14,277.99 L104.65,276.90 L105.17,275.81 L105.69,274.72 L106.21,273.63 L106.73,272.54 L107.26,271.45 L107.79,270.37 L108.31,269.28 L108.85,268.20 L109.38,267.11 L109.91,266.03 L110.45,264.95 L110.99,263.87 L111.53,262.79 L112.08,261.71 L112.62,260.63 L113.17,259.56 L113.72,258.48 L114.27,257.41 L114.83,256.34 L115.38,255.27 L115.94,254.20 L116.50,253.13 L117.07,252.06 L117.63,250.99 L118.20,249.93 L118.77,248.87 L119.35,247.80 L119.92,246.74 L120.50,245.68 L121.08,244.62 L121.66,243.57 L122.25,242.51 L122.83,241.46 L123.42,240.41 L124.02,239.36 L124.61,238.31 L125.21,237.26 L125.81,236.22 L126.41,235.17 L127.02,234.13 L127.63,233.09 L128.24,232.05 L128.85,231.01 L129.47,229.98 L130.08,228.94 L130.71,227.91 L131.33,226.88 L131.96,225.85 L132.58,224.83 L133.22,223.80 L133.85,222.78 L134.49,221.76 L135.13,220.74 L135.77,219.72 L136.42,218.71 L137.07,217.70 L137.72,216.69 L138.37,215.68 L139.03,214.67 L139.69,213.67 L140.35,212.66 L141.02,211.66 L141.69,210.67 L142.36,209.67 L143.04,208.68 L143.72,207.69 L144.40,206.70 L145.08,205.71 L145.77,204.72 L146.46,203.74 L147.15,202.76 L147.85,201.79 L148.55,200.81 L149.25,199.84 L149.96,198.87 L150.67,197.90 L151.38,196.93 L152.09,195.97 L152.81,195.01 L153.54,194.05 L154.26,193.10 L154.99,192.15 L155.72,191.20 L156.46,190.25 L157.19,189.30 L157.94,188.36 L158.68,187.42 L159.43,186.49 L160.18,185.55 L160.94,184.62 L161.70,183.69 L162.46,182.77 L163.22,181.85 L163.99,180.93 L164.76,180.01 L165.54,179.10 L166.32,178.19 L167.10,177.28 L167.89,176.37 L168.68,175.47 L169.47,174.57 L170.27,173.68 L171.07,172.78 L171.88,171.89 L172.69,171.01 L173.50,170.12 L174.31,169.24 L175.13,168.37 L175.95,167.49 L176.78,166.62 L177.61,165.75 L178.44,164.89 L179.28,164.03 L180.12,163.17 L180.97,162.31 L181.81,161.46 L182.66,160.61 L183.52,159.77 L184.38,158.93 L185.24,158.09 L186.10,157.25 L186.97,156.42 L187.84,155.59 L188.72,154.76 L189.59,153.94 L190.48,153.12 L191.36,152.31 L192.25,151.49 L193.14,150.68 L194.03,149.88 L194.93,149.08 L195.83,148.28 L196.73,147.48 L197.64,146.69 L198.55,145.90 L199.46,145.11 L200.38,144.33 L201.30,143.55 L202.22,142.78 L203.14,142.00 L204.07,141.23 L205.00,140.47 L205.93,139.71 L206.87,138.95 L207.81,138.19 L208.75,137.44 L209.70,136.69 L210.64,135.95 L211.59,135.21 L212.55,134.47 L213.50,133.73 L214.46,133.00 L215.42,132.28 L216.39,131.55 L217.35,130.83 L218.32,130.12 L219.30,129.40 L220.27,128.69 L221.25,127.99 L222.23,127.28 L223.21,126.58 L224.19,125.89 L225.18,125.20 L226.17,124.51 L227.16,123.82 L228.16,123.14 L229.15,122.47 L230.15,121.79 L231.16,121.12 L232.16,120.46 L233.17,119.79 L234.18,119.13 L235.19,118.48 L236.20,117.83 L237.22,117.18 L238.23,116.53 L239.25,115.89 L240.28,115.26 L241.30,114.62 L242.33,113.99 L243.36,113.37 L244.39,112.75 L245.42,112.13 L246.46,111.51 L247.49,110.90 L248.53,110.29 L249.57,109.69 L250.62,109.09 L251.66,108.49 L252.71,107.90 L253.76,107.31 L254.81,106.72 L255.86,106.14 L256.92,105.56 L257.97,104.99 L259.03,104.42 L260.09,103.85 L261.15,103.28 L262.22,102.72 L263.28,102.16 L264.35,101.61 L265.42,101.05 L266.49,100.51 L267.56,99.96 L268.63,99.42 L269.71,98.88 L270.79,98.34 L271.87,97.81 L272.95,97.28 L274.03,96.76 L275.11,96.23 L276.20,95.71 L277.28,95.20 L278.37,94.68 L279.46,94.17 L280.55,93.67 L281.64,93.16 L282.74,92.66 L283.83,92.16 L284.93,91.67 L286.03,91.17 L287.13,90.68 L288.23,90.20 L289.33,89.71 L290.43,89.23 L291.54,88.75 L292.64,88.28 L293.75,87.81 L294.86,87.34 L295.96,86.87 L297.07,86.40 L298.19,85.94 L299.30,85.48 L300.41,85.03 L301.53,84.57 L302.64,84.12 L303.76,83.68 L304.88,83.23 L305.99,82.79 L307.11,82.35 L308.23,81.91 L309.36,81.47 L310.48,81.04 L311.60,80.61 L312.73,80.18 L313.85,79.75 L314.98,79.33 L316.10,78.91 L317.23,78.49 L318.36,78.08 L319.49,77.66 L320.62,77.25 L321.75,76.84 L322.88,76.43 L324.01,76.03 L325.14,75.63 L326.28,75.23 L327.41,74.83 L328.55,74.44 L329.68,74.04 L330.82,73.65 L331.96,73.26 L333.10,72.88 L334.24,72.49 L335.38,72.11 L336.52,71.73 L337.66,71.35 L338.80,70.98 L339.94,70.60 L341.09,70.23 L342.23,69.86 L343.38,69.50 L344.52,69.13 L345.67,68.77 L346.81,68.41 L347.96,68.05 L349.11,67.69 L350.26,67.34 L351.41,66.99 L352.56,66.64 L353.71,66.29 L354.86,65.94 L356.01,65.60 L357.17,65.25 L358.32,64.91 L359.47,64.57 L360.63,64.24 L361.78,63.90 L362.94,63.57 L364.09,63.24 L365.25,62.91 L366.41,62.58 L367.57,62.25 L368.72,61.93 L369.88,61.61 L371.04,61.29 L372.20,60.97 L373.36,60.65 L374.53,60.34 L375.69,60.02 L376.85,59.71 L378.01,59.40 L379.17,59.09 L380.34,58.79 L381.50,58.48 L382.67,58.18 L383.83,57.88 L385.00,57.58 L386.16,57.28 L387.33,56.99 L388.50,56.69 L389.66,56.40 L390.83,56.11 L392.00,55.82 L393.17,55.53 L394.34,55.24 L395.51,54.95 L396.68,54.67 L397.85,54.39 L399.02,54.11 L400.19,53.83 L401.36,53.55 L402.53,53.27 L403.71,53.00 L404.88,52.72 L406.05,52.45 L407.22,52.18 L408.40,51.91 L409.57,51.64 L410.75,51.38 L411.92,51.11 L413.10,50.85 L414.27,50.59 L415.45,50.32 L416.62,50.06 L417.80,49.81 L418.98,49.55 L420.15,49.29 L421.33,49.04 L422.51,48.78 L423.68,48.53 L424.86,48.28 L426.04,48.03 L427.22,47.78 L428.40,47.53 L429.58,47.29 L430.76,47.04 L431.93,46.80 L433.11,46.56 L434.29,46.31 L435.47,46.07 L436.65,45.83 L437.83,45.60 L439.01,45.36 L440.20,45.12 L441.38,44.89 L442.56,44.65 L443.74,44.42 L444.92,44.19 L446.10,43.95 L447.28,43.72 L448.47,43.49 L449.65,43.27 L450.83,43.04 L452.01,42.81 L453.19,42.59 L454.38,42.36 L455.56,42.14 L456.74,41.92 L457.92,41.69 L459.11,41.47 L460.29,41.25 L461.47,41.03 L462.66,40.81 L463.84,40.60 L465.02,40.38 L466.21,40.16 L467.39,39.95 L468.57,39.74 L469.76,39.52 L470.94,39.31 L472.13,39.10 L473.31,38.89 L474.49,38.68 L475.68,38.47 L476.86,38.26 L478.05,38.05 L479.23,37.85 L480.42,37.64 L481.60,37.44 L482.79,37.23 L483.97,37.03 L485.16,36.83 L486.34,36.63 L487.53,36.43 L488.71,36.23 L489.90,36.03 L491.09,35.83 L492.27,35.64 L493.46,35.44 L494.65,35.24 L495.83,35.05 L497.02,34.86 L498.20,34.66 L499.39,34.47 L500.58,34.28 L501.77,34.09 L502.95,33.90 L504.14,33.71 L505.33,33.52 L506.52,33.34 L507.70,33.15 L508.89,32.97 L510.08,32.78 L511.27,32.60 L512.46,32.41 L513.64,32.23 L514.83,32.05 L516.02,31.87 L517.21,31.69 L518.40,31.51 L519.59,31.33 L520.78,31.15 L521.97,30.98 L523.16,30.80 L524.35,30.63 L525.54,30.45 L526.73,30.28 L527.92,30.11 L529.11,29.93 L530.30,29.76 L531.49,29.59 L532.68,29.42 L533.87,29.25 L535.06,29.08 L536.25,28.92 L537.44,28.75 L538.63,28.58 L539.82,28.42 L541.02,28.25 L542.21,28.09 L543.40,27.93 L544.59,27.76 L545.78,27.60 L546.98,27.44 L548.17,27.28 L549.36,27.12 L550.55,26.96 L551.75,26.80 L552.94,26.65 L554.13,26.49 L555.33,26.33 L556.52,26.18 L557.71,26.02 L558.91,25.87 L560.10,25.72 L561.30,25.57 L562.49,25.41 L563.68,25.26 L564.88,25.11 L566.07,24.96 L567.27,24.81 L568.46,24.67 L569.66,24.52 L570.85,24.37 L572.05,24.23 L573.24,24.08 L574.44,23.93 L575.64,23.79 L576.83,23.65 L578.03,23.50 L579.23,23.36 L580.42,23.22 L581.62,23.08 L582.82,22.94 L584.01,22.80" stroke="#0000ff" stroke-width="3.4" stroke-dasharray="9.9 3.0" stroke-dashoffset="6.4"/>
<path d="M36.2,336.1 H53" stroke="#00a400" stroke-width="3.4"/>
<path d="M52.01,336.10 L53.12,336.00 L54.30,335.99 L55.53,336.04 L56.79,336.12 L58.07,336.18 L59.33,336.19 L60.57,336.11 L61.76,335.90 L62.88,335.54 L63.93,335.04 L64.91,334.40 L65.81,333.65 L66.63,332.79 L67.38,331.84 L68.04,330.82 L68.62,329.74 L69.12,328.62 L69.53,327.47 L69.87,326.30 L70.14,325.11 L70.37,323.90 L70.55,322.69 L70.71,321.47 L70.85,320.26 L70.99,319.05 L71.13,317.84 L71.27,316.64 L71.40,315.44 L71.53,314.25 L71.65,313.05 L71.77,311.85 L71.89,310.66 L72.01,309.46 L72.12,308.26 L72.23,307.06 L72.34,305.86 L72.45,304.66 L72.55,303.46 L72.65,302.26 L72.74,301.06 L72.84,299.85 L72.93,298.65 L73.02,297.45 L73.11,296.24 L73.19,295.04 L73.27,293.83 L73.35,292.62 L73.43,291.42 L73.51,290.21 L73.58,289.00 L73.65,287.80 L73.72,286.59 L73.79,285.38 L73.86,284.17 L73.93,282.97 L73.99,281.76 L74.05,280.55 L74.11,279.34 L74.17,278.13 L74.23,276.93 L74.29,275.72 L74.34,274.51 L74.40,273.30 L74.45,272.09 L74.50,270.89 L74.56,269.68 L74.61,268.47 L74.66,267.26 L74.70,266.05 L74.75,264.85 L74.80,263.64 L74.84,262.43 L74.89,261.22 L74.93,260.02 L74.97,258.81 L75.01,257.60 L75.05,256.39 L75.09,255.18 L75.13,253.98 L75.17,252.77 L75.21,251.56 L75.25,250.35 L75.28,249.15 L75.32,247.94 L75.35,246.73 L75.39,245.52 L75.42,244.32 L75.46,243.11 L75.49,241.90 L75.53,240.69 L75.56,239.49 L75.59,238.28 L75.62,237.07 L75.66,235.86 L75.69,234.66 L75.72,233.45 L75.75,232.24 L75.78,231.03 L75.81,229.83 L75.85,228.62 L75.88,227.41 L75.91,226.20 L75.94,225.00 L75.97,223.79 L76.00,222.58 L76.04,221.37 L76.07,220.17 L76.10,218.96 L76.13,217.75 L76.16,216.54 L76.20,215.34 L76.23,214.13 L76.26,212.92 L76.30,211.71 L76.33,210.51 L76.37,209.30 L76.40,208.09 L76.44,206.88 L76.48,205.67 L76.51,204.47 L76.55,203.26 L76.59,202.05 L76.63,200.84 L76.67,199.64 L76.71,198.43 L76.75,197.22 L76.79,196.01 L76.83,194.81 L76.88,193.60 L76.92,192.39 L76.96,191.18 L77.01,189.97 L77.05,188.77 L77.10,187.56 L77.14,186.35 L77.19,185.14 L77.24,183.94 L77.28,182.73 L77.33,181.52 L77.38,180.31 L77.42,179.10 L77.47,177.90 L77.52,176.69 L77.56,175.48 L77.61,174.27 L77.66,173.07 L77.71,171.86 L77.75,170.65 L77.80,169.44 L77.85,168.23 L77.89,167.03 L77.94,165.82 L77.98,164.61 L78.03,163.40 L78.07,162.20 L78.12,160.99 L78.16,159.78 L78.21,158.57 L78.25,157.37 L78.29,156.16 L78.33,154.95 L78.37,153.74 L78.41,152.54 L78.45,151.33 L78.49,150.12 L78.53,148.92 L78.57,147.71 L78.60,146.50" stroke="#00a400" stroke-width="3.4"/>
<path d="M78.67,146.25 L79.88,146.34 L80.97,146.63 L81.96,147.12 L82.87,147.76 L83.71,148.53 L84.49,149.40 L85.23,150.35 L85.95,151.35 L86.65,152.36 L87.34,153.38 L88.04,154.38 L88.74,155.39 L89.43,156.39 L90.13,157.39 L90.82,158.38 L91.52,159.37 L92.21,160.35 L92.91,161.33 L93.61,162.31 L94.31,163.28 L95.01,164.26 L95.72,165.22 L96.43,166.19 L97.14,167.15 L97.85,168.10 L98.57,169.06 L99.29,170.01 L100.02,170.96 L100.75,171.90 L101.49,172.85 L102.23,173.79 L102.98,174.72 L103.73,175.66 L104.48,176.59 L105.24,177.52 L106.01,178.44 L106.77,179.37 L107.55,180.28 L108.33,181.20 L109.11,182.11 L109.89,183.02 L110.68,183.93 L111.48,184.83 L112.28,185.73 L113.08,186.63 L113.89,187.52 L114.70,188.41 L115.52,189.30 L116.34,190.19 L117.16,191.07 L117.99,191.94 L118.83,192.82 L119.66,193.69 L120.50,194.55 L121.35,195.42 L122.20,196.28 L123.05,197.13 L123.91,197.98 L124.77,198.83 L125.63,199.68 L126.50,200.52 L127.37,201.36 L128.25,202.19 L129.12,203.02 L130.01,203.85 L130.89,204.67 L131.78,205.49 L132.68,206.30 L133.57,207.12 L134.48,207.92 L135.38,208.73 L136.29,209.53 L137.20,210.32 L138.11,211.11 L139.03,211.90 L139.95,212.68 L140.87,213.46 L141.80,214.24 L142.73,215.01 L143.67,215.77 L144.60,216.54 L145.54,217.29 L146.49,218.05 L147.43,218.80 L148.38,219.54 L149.34,220.29 L150.29,221.02 L151.25,221.75 L152.21,222.48 L153.18,223.21 L154.14,223.92 L155.11,224.64 L156.09,225.35 L157.06,226.06 L158.04,226.76 L159.02,227.45 L160.01,228.14 L160.99,228.83 L161.98,229.52 L162.97,230.19 L163.97,230.87 L164.97,231.54 L165.97,232.20 L166.97,232.86 L167.97,233.52 L168.98,234.17 L169.99,234.82 L171.00,235.47 L172.02,236.11 L173.04,236.74 L174.06,237.37 L175.08,238.00 L176.10,238.62 L177.13,239.24 L178.16,239.85 L179.19,240.47 L180.23,241.07 L181.26,241.67 L182.30,242.27 L183.34,242.87 L184.39,243.46 L185.43,244.04 L186.48,244.62 L187.53,245.20 L188.58,245.78 L189.64,246.35 L190.69,246.91 L191.75,247.47 L192.81,248.03 L193.88,248.59 L194.94,249.14 L196.01,249.68 L197.08,250.23 L198.15,250.77 L199.22,251.30 L200.30,251.83 L201.37,252.36 L202.45,252.89 L203.53,253.41 L204.62,253.92 L205.70,254.44 L206.79,254.95 L207.88,255.45 L208.97,255.96 L210.06,256.45 L211.15,256.95 L212.25,257.44 L213.34,257.93 L214.44,258.41 L215.54,258.89 L216.65,259.37 L217.75,259.85 L218.86,260.32 L219.96,260.79 L221.07,261.25 L222.18,261.71 L223.29,262.17 L224.41,262.62 L225.52,263.07 L226.64,263.52 L227.76,263.96 L228.88,264.40 L230.00,264.84 L231.12,265.28 L232.24,265.71 L233.37,266.14 L234.50,266.56 L235.62,266.98 L236.75,267.40 L237.88,267.82 L239.02,268.23 L240.15,268.64 L241.28,269.04 L242.42,269.45 L243.56,269.85 L244.70,270.24 L245.83,270.64 L246.98,271.03 L248.12,271.42 L249.26,271.80 L250.40,272.19 L251.55,272.56 L252.70,272.94 L253.84,273.32 L254.99,273.69 L256.14,274.05 L257.29,274.42 L258.44,274.78 L259.59,275.14 L260.75,275.50 L261.90,275.85 L263.06,276.21 L264.21,276.56 L265.37,276.90 L266.52,277.25 L267.68,277.59 L268.84,277.93 L270.00,278.26 L271.16,278.60 L272.32,278.93 L273.49,279.25 L274.65,279.58 L275.81,279.90 L276.98,280.22 L278.14,280.54 L279.31,280.86 L280.47,281.17 L281.64,281.48 L282.81,281.79 L283.97,282.10 L285.14,282.40 L286.31,282.71 L287.48,283.01 L288.65,283.30 L289.82,283.60 L290.99,283.89 L292.16,284.18 L293.33,284.47 L294.51,284.76 L295.68,285.04 L296.85,285.32 L298.02,285.60 L299.20,285.88 L300.37,286.15 L301.54,286.43 L302.72,286.70 L303.89,286.97 L305.07,287.24 L306.24,287.50 L307.42,287.76 L308.59,288.03 L309.77,288.28 L310.95,288.54 L312.12,288.80 L313.30,289.05 L314.48,289.30 L315.65,289.55 L316.83,289.80 L318.01,290.04 L319.19,290.29 L320.37,290.53 L321.55,290.77 L322.73,291.01 L323.91,291.24 L325.09,291.48 L326.27,291.71 L327.45,291.94 L328.63,292.17 L329.81,292.40 L330.99,292.62 L332.17,292.85 L333.35,293.07 L334.54,293.29 L335.72,293.51 L336.90,293.72 L338.08,293.94 L339.27,294.15 L340.45,294.36 L341.63,294.57 L342.82,294.78 L344.00,294.99 L345.19,295.20 L346.37,295.40 L347.56,295.60 L348.74,295.80 L349.93,296.00 L351.11,296.20 L352.30,296.39 L353.48,296.59 L354.67,296.78 L355.86,296.97 L357.04,297.16 L358.23,297.35 L359.42,297.54 L360.61,297.72 L361.79,297.91 L362.98,298.09 L364.17,298.27 L365.36,298.45 L366.55,298.63 L367.74,298.81 L368.93,298.98 L370.12,299.16 L371.30,299.33 L372.49,299.50 L373.68,299.67 L374.87,299.84 L376.07,300.01 L377.26,300.18 L378.45,300.34 L379.64,300.51 L380.83,300.67 L382.02,300.83 L383.21,300.99 L384.40,301.15 L385.59,301.31 L386.79,301.47 L387.98,301.63 L389.17,301.78 L390.36,301.93 L391.56,302.09 L392.75,302.24 L393.94,302.39 L395.14,302.54 L396.33,302.69 L397.52,302.84 L398.72,302.98 L399.91,303.13 L401.10,303.27 L402.30,303.42 L403.49,303.56 L404.69,303.70 L405.88,303.84 L407.08,303.98 L408.27,304.12 L409.47,304.26 L410.66,304.39 L411.86,304.53 L413.05,304.67 L414.25,304.80 L415.44,304.93 L416.64,305.07 L417.84,305.20 L419.03,305.33 L420.23,305.46 L421.43,305.59 L422.62,305.72 L423.82,305.85 L425.02,305.97 L426.21,306.10 L427.41,306.23 L428.61,306.35 L429.80,306.48 L431.00,306.60 L432.20,306.72 L433.40,306.85 L434.59,306.97 L435.79,307.09 L436.99,307.21 L438.19,307.33 L439.39,307.45 L440.58,307.57 L441.78,307.69 L442.98,307.81 L444.18,307.92 L445.38,308.04 L446.58,308.16 L447.77,308.27 L448.97,308.39 L450.17,308.50 L451.37,308.62 L452.57,308.73 L453.77,308.84 L454.97,308.95 L456.17,309.07 L457.37,309.18 L458.57,309.29 L459.77,309.40 L460.96,309.51 L462.16,309.62 L463.36,309.73 L464.56,309.83 L465.76,309.94 L466.96,310.05 L468.16,310.16 L469.36,310.26 L470.56,310.37 L471.76,310.47 L472.96,310.58 L474.16,310.68 L475.36,310.78 L476.56,310.89 L477.76,310.99 L478.96,311.09 L480.16,311.19 L481.36,311.30 L482.56,311.40 L483.76,311.50 L484.96,311.60 L486.17,311.70 L487.37,311.80 L488.57,311.89 L489.77,311.99 L490.97,312.09 L492.17,312.19 L493.37,312.28 L494.57,312.38 L495.77,312.48 L496.97,312.57 L498.17,312.67 L499.37,312.76 L500.57,312.86 L501.77,312.95 L502.97,313.04 L504.17,313.14 L505.38,313.23 L506.58,313.32 L507.78,313.41 L508.98,313.51 L510.18,313.60 L511.38,313.69 L512.58,313.78 L513.78,313.87 L514.98,313.96 L516.18,314.05 L517.38,314.14 L518.58,314.23 L519.78,314.32 L520.99,314.40 L522.19,314.49 L523.39,314.58 L524.59,314.67 L525.79,314.75 L526.99,314.84 L528.19,314.92 L529.39,315.01 L530.59,315.10 L531.79,315.18 L532.99,315.27 L534.19,315.35 L535.39,315.44 L536.59,315.52 L537.79,315.60 L538.99,315.69 L540.19,315.77 L541.39,315.85 L542.59,315.93 L543.79,316.02 L544.99,316.10 L546.19,316.18 L547.39,316.26 L548.59,316.34 L549.79,316.42 L550.99,316.51 L552.19,316.59 L553.39,316.67 L554.59,316.75 L555.79,316.83 L556.99,316.91 L558.19,316.98 L559.39,317.06 L560.59,317.14 L561.79,317.22 L562.99,317.30 L564.19,317.38 L565.39,317.46 L566.58,317.53 L567.78,317.61 L568.98,317.69 L570.18,317.77" stroke="#00a400" stroke-width="3.4"/>
<path d="M82.22,301.49 L81.89,300.34 L81.56,299.18 L81.25,298.02 L80.95,296.86 L80.66,295.69 L80.38,294.52 L80.10,293.35 L79.83,292.18 L79.56,291.00 L79.30,289.83 L79.04,288.65 L78.79,287.48 L78.54,286.30 L78.28,285.13 L78.01,283.96 L77.70,282.81 L77.34,281.67 L76.91,280.55 L76.39,279.46 L75.82,278.39 L75.25,277.32 L74.75,276.23 L74.33,275.12 L73.98,273.99 L73.69,272.84 L73.47,271.68 L73.29,270.51 L73.16,269.32 L73.06,268.13 L72.99,266.93 L72.93,265.72 L72.89,264.51 L72.86,263.30 L72.83,262.09 L72.79,260.88 L72.74,259.68 L72.70,258.47 L72.65,257.26 L72.60,256.06 L72.54,254.86 L72.49,253.65 L72.43,252.45 L72.38,251.25 L72.32,250.05 L72.26,248.85 L72.20,247.65 L72.15,246.45 L72.09,245.25 L72.03,244.05 L71.98,242.85 L71.93,241.65 L71.88,240.45 L71.83,239.25 L71.78,238.05 L71.74,236.85 L71.70,235.65 L71.66,234.45 L71.63,233.25 L71.60,232.04 L71.58,230.84 L71.56,229.64 L71.54,228.44 L71.53,227.24 L71.52,226.04 L71.52,224.84 L71.52,223.63 L71.53,222.43 L71.54,221.23 L71.56,220.03 L71.58,218.83 L71.62,217.63 L71.65,216.43 L71.70,215.23 L71.75,214.03 L71.81,212.83 L71.87,211.63 L71.94,210.43 L72.02,209.23 L72.11,208.03 L72.21,206.84 L72.31,205.64 L72.42,204.44 L72.54,203.25 L72.67,202.05 L72.81,200.85 L72.96,199.66 L73.11,198.46 L73.27,197.27 L73.45,196.08 L73.62,194.89 L73.81,193.70 L74.00,192.51 L74.20,191.32 L74.41,190.13 L74.63,188.95 L74.85,187.76 L75.07,186.58 L75.31,185.40 L75.55,184.22 L75.79,183.04 L76.04,181.87 L76.30,180.70 L76.56,179.52 L76.83,178.36 L77.10,177.19 L77.37,176.02 L77.65,174.86 L77.96,173.71 L78.32,172.59 L78.76,171.51 L79.32,170.48 L80.02,169.53 L80.88,168.65 L81.86,167.86 L82.91,167.15 L84.01,166.54 L85.15,166.04 L86.32,165.67 L87.49,165.45 L88.65,165.40 L89.80,165.53 L90.93,165.82 L92.04,166.23 L93.13,166.73 L94.21,167.30 L95.27,167.90 L96.32,168.52 L97.37,169.14 L98.41,169.75 L99.46,170.34 L100.52,170.91 L101.59,171.47 L102.67,172.02 L103.73,172.58 L104.77,173.19 L105.77,173.84 L106.74,174.54 L107.68,175.28 L108.61,176.05 L109.52,176.83 L110.43,177.62 L111.34,178.40 L112.24,179.19 L113.15,179.99 L114.05,180.78 L114.96,181.57 L115.86,182.37 L116.76,183.16 L117.67,183.96 L118.57,184.75 L119.47,185.55 L120.37,186.34 L121.27,187.14 L122.17,187.94 L123.07,188.73 L123.97,189.53 L124.87,190.33 L125.77,191.12 L126.67,191.92 L127.57,192.71 L128.47,193.51 L129.37,194.30 L130.27,195.09 L131.18,195.89 L132.08,196.68 L132.99,197.47 L133.89,198.25 L134.80,199.04 L135.71,199.83 L136.62,200.61 L137.53,201.39 L138.44,202.18 L139.35,202.95 L140.27,203.73 L141.18,204.51 L142.10,205.28 L143.02,206.05 L143.95,206.82 L144.87,207.58 L145.80,208.35 L146.73,209.11 L147.66,209.87 L148.59,210.62 L149.53,211.37 L150.47,212.12 L151.41,212.87 L152.35,213.61 L153.30,214.35 L154.25,215.09 L155.20,215.82 L156.16,216.55 L157.12,217.27 L158.08,217.99 L159.05,218.71 L160.01,219.42 L160.99,220.13 L161.96,220.84 L162.94,221.54 L163.92,222.24 L164.90,222.93 L165.89,223.62 L166.88,224.31 L167.87,224.99 L168.87,225.67 L169.86,226.34 L170.86,227.02 L171.87,227.68 L172.87,228.34 L173.88,229.00 L174.90,229.66 L175.91,230.31 L176.93,230.95 L177.95,231.60 L178.97,232.23 L179.99,232.87 L181.02,233.50 L182.05,234.12 L183.08,234.74 L184.12,235.36 L185.15,235.97 L186.19,236.58 L187.23,237.19 L188.28,237.79 L189.33,238.38 L190.37,238.98 L191.42,239.56 L192.48,240.15 L193.53,240.72 L194.59,241.30 L195.65,241.87 L196.71,242.43 L197.77,242.99 L198.84,243.55 L199.91,244.10 L200.98,244.65 L202.05,245.19 L203.12,245.73 L204.20,246.27 L205.28,246.80 L206.36,247.33 L207.44,247.85 L208.52,248.37 L209.61,248.88 L210.69,249.39 L211.78,249.90 L212.87,250.40 L213.96,250.90 L215.06,251.39 L216.15,251.88 L217.25,252.37 L218.35,252.85 L219.45,253.33 L220.56,253.80 L221.66,254.27 L222.77,254.74 L223.87,255.20 L224.98,255.66 L226.09,256.11 L227.21,256.56 L228.32,257.01 L229.44,257.46 L230.55,257.90 L231.67,258.33 L232.79,258.76 L233.91,259.19 L235.04,259.62 L236.16,260.04 L237.29,260.46 L238.41,260.87 L239.54,261.29 L240.67,261.69 L241.80,262.10 L242.94,262.50 L244.07,262.90 L245.20,263.29 L246.34,263.68 L247.48,264.07 L248.62,264.45 L249.76,264.83 L250.90,265.21 L252.04,265.59 L253.18,265.96 L254.33,266.32 L255.47,266.69 L256.62,267.05 L257.77,267.41 L258.92,267.76 L260.07,268.12 L261.22,268.47 L262.37,268.81 L263.52,269.16 L264.68,269.50 L265.83,269.83 L266.99,270.17 L268.14,270.50 L269.30,270.83 L270.46,271.15 L271.62,271.48 L272.78,271.80 L273.94,272.11 L275.10,272.43 L276.26,272.74 L277.43,273.05 L278.59,273.36 L279.76,273.66 L280.92,273.96 L282.09,274.26 L283.25,274.55 L284.42,274.85 L285.59,275.14 L286.76,275.43 L287.93,275.71 L289.10,276.00 L290.27,276.28 L291.44,276.55 L292.61,276.83 L293.78,277.10 L294.95,277.38 L296.13,277.64 L297.30,277.91 L298.47,278.17 L299.65,278.44 L300.82,278.70 L301.99,278.95 L303.17,279.21 L304.35,279.46 L305.52,279.71 L306.70,279.96 L307.88,280.21 L309.05,280.45 L310.23,280.69 L311.41,280.93 L312.59,281.17 L313.77,281.41 L314.94,281.64 L316.12,281.87 L317.30,282.10 L318.48,282.33 L319.66,282.55 L320.85,282.78 L322.03,283.00 L323.21,283.22 L324.39,283.44 L325.57,283.65 L326.76,283.87 L327.94,284.08 L329.12,284.29 L330.31,284.50 L331.49,284.71 L332.67,284.91 L333.86,285.11 L335.04,285.32 L336.23,285.52 L337.41,285.71 L338.60,285.91 L339.79,286.10 L340.97,286.30 L342.16,286.49 L343.34,286.68 L344.53,286.87 L345.72,287.05 L346.91,287.24 L348.09,287.42 L349.28,287.60 L350.47,287.78 L351.66,287.96 L352.85,288.14 L354.04,288.31 L355.23,288.49 L356.42,288.66 L357.61,288.83 L358.80,289.00 L359.99,289.17 L361.18,289.34 L362.37,289.50 L363.56,289.67 L364.75,289.83 L365.94,289.99 L367.13,290.15 L368.32,290.31 L369.52,290.47 L370.71,290.63 L371.90,290.78 L373.09,290.94 L374.29,291.09 L375.48,291.24 L376.67,291.39 L377.86,291.54 L379.06,291.69 L380.25,291.84 L381.44,291.98 L382.64,292.13 L383.83,292.27 L385.02,292.42 L386.22,292.56 L387.41,292.70 L388.61,292.84 L389.80,292.98 L391.00,293.12 L392.19,293.26 L393.38,293.39 L394.58,293.53 L395.77,293.66 L396.97,293.80 L398.16,293.93 L399.36,294.06 L400.55,294.19 L401.75,294.32 L402.94,294.45 L404.14,294.58 L405.34,294.71 L406.53,294.84 L407.73,294.96 L408.92,295.09 L410.12,295.22 L411.31,295.34 L412.51,295.46 L413.71,295.59 L414.90,295.71 L416.10,295.83 L417.29,295.95 L418.49,296.07 L419.69,296.19 L420.88,296.30 L422.08,296.42 L423.28,296.54 L424.47,296.65 L425.67,296.77 L426.87,296.88 L428.06,297.00 L429.26,297.11 L430.46,297.22 L431.65,297.33 L432.85,297.44 L434.05,297.55 L435.24,297.66 L436.44,297.77 L437.64,297.88 L438.84,297.99 L440.03,298.09 L441.23,298.20 L442.43,298.30 L443.63,298.41 L444.82,298.51 L446.02,298.61 L447.22,298.72 L448.42,298.82 L449.62,298.92 L450.81,299.02 L452.01,299.12 L453.21,299.22 L454.41,299.32 L455.61,299.42 L456.81,299.51 L458.00,299.61 L459.20,299.71 L460.40,299.80 L461.60,299.90 L462.80,299.99 L464.00,300.09 L465.19,300.18 L466.39,300.27 L467.59,300.37 L468.79,300.46 L469.99,300.55 L471.19,300.64 L472.39,300.73 L473.59,300.82 L474.79,300.91 L475.98,301.00 L477.18,301.08 L478.38,301.17 L479.58,301.26 L480.78,301.34 L481.98,301.43 L483.18,301.51 L484.38,301.60 L485.58,301.68 L486.78,301.77 L487.98,301.85 L489.18,301.93 L490.38,302.02 L491.58,302.10 L492.77,302.18 L493.97,302.26 L495.17,302.34 L496.37,302.42 L497.57,302.50 L498.77,302.58 L499.97,302.66 L501.17,302.74 L502.37,302.81 L503.57,302.89 L504.77,302.97 L505.97,303.04 L507.17,303.12 L508.37,303.20 L509.57,303.27 L510.77,303.35 L511.97,303.42 L513.17,303.50 L514.37,303.57 L515.57,303.64 L516.77,303.72 L517.97,303.79 L519.17,303.86 L520.37,303.93 L521.57,304.00 L522.77,304.08 L523.97,304.15 L525.17,304.22 L526.37,304.29 L527.57,304.36 L528.78,304.43 L529.98,304.50 L531.18,304.56 L532.38,304.63 L533.58,304.70 L534.78,304.77 L535.98,304.84 L537.18,304.90 L538.38,304.97 L539.58,305.04 L540.78,305.11 L541.98,305.17 L543.18,305.24 L544.38,305.30 L545.58,305.37 L546.78,305.43 L547.98,305.50 L549.18,305.56 L550.38,305.63 L551.58,305.69 L552.78,305.76 L553.98,305.82 L555.18,305.88 L556.39,305.95 L557.59,306.01 L558.79,306.07 L559.99,306.14 L561.19,306.20 L562.39,306.26 L563.59,306.32 L564.79,306.39 L565.99,306.45 L567.19,306.51 L568.39,306.57 L569.59,306.63 L570.79,306.69 L571.99,306.75 L573.19,306.82 L574.39,306.88 L575.59,306.94 L576.79,307.00 L577.99,307.06 L579.19,307.12 L580.39,307.18 L581.60,307.24 L582.80,307.30 L584.00,307.36" stroke="#00a400" stroke-width="3.4" stroke-dasharray="9.9 3.0" stroke-dashoffset="10.1"/>
</g>
<path d="M78.75,135.80 V146.40 M74.95,135.80 h7.6 M74.95,146.40 h7.6" stroke="#ff0000" stroke-width="2.5" fill="none"/>
<path d="M180.85,52.40 V68.50 M177.05,52.40 h7.6 M177.05,68.50 h7.6" stroke="#ff0000" stroke-width="2.5" fill="none"/>
<path d="M282.95,28.40 V46.20 M279.15,28.40 h7.6 M279.15,46.20 h7.6" stroke="#ff0000" stroke-width="2.5" fill="none"/>
<path d="M385.05,17.40 V36.60 M381.25,17.40 h7.6 M381.25,36.60 h7.6" stroke="#ff0000" stroke-width="2.5" fill="none"/>
<path d="M487.15,12.20 V30.50 M483.35,12.20 h7.6 M483.35,30.50 h7.6" stroke="#ff0000" stroke-width="2.5" fill="none"/>
<circle cx="180.85" cy="60.00" r="3.3" fill="#ff0000"/>
<circle cx="282.95" cy="37.30" r="3.3" fill="#ff0000"/>
<circle cx="385.05" cy="27.00" r="3.3" fill="#ff0000"/>
<circle cx="487.15" cy="21.60" r="3.3" fill="#ff0000"/>
<path d="M180.85,150.40 V161.60 M177.05,150.40 h7.6 M177.05,161.60 h7.6" stroke="#0000ff" stroke-width="2.5" fill="none"/>
<path d="M282.95,85.30 V99.60 M279.15,85.30 h7.6 M279.15,99.60 h7.6" stroke="#0000ff" stroke-width="2.5" fill="none"/>
<path d="M385.05,54.90 V70.80 M381.25,54.90 h7.6 M381.25,70.80 h7.6" stroke="#0000ff" stroke-width="2.5" fill="none"/>
<path d="M487.15,36.10 V54.50 M483.35,36.10 h7.6 M483.35,54.50 h7.6" stroke="#0000ff" stroke-width="2.5" fill="none"/>
<path d="M78.35,320.90 l3.7,4.1 l-3.7,4.1 l-3.7,-4.1 z" fill="#0000ff" stroke="#0000ff" stroke-width="1.2" stroke-linejoin="round"/>
<path d="M180.85,151.70 l3.7,4.1 l-3.7,4.1 l-3.7,-4.1 z" fill="#0000ff" stroke="#0000ff" stroke-width="1.2" stroke-linejoin="round"/>
<path d="M282.95,88.30 l3.7,4.1 l-3.7,4.1 l-3.7,-4.1 z" fill="#0000ff" stroke="#0000ff" stroke-width="1.2" stroke-linejoin="round"/>
<path d="M385.05,58.50 l3.7,4.1 l-3.7,4.1 l-3.7,-4.1 z" fill="#0000ff" stroke="#0000ff" stroke-width="1.2" stroke-linejoin="round"/>
<path d="M487.15,41.90 l3.7,4.1 l-3.7,4.1 l-3.7,-4.1 z" fill="#0000ff" stroke="#0000ff" stroke-width="1.2" stroke-linejoin="round"/>
<path d="M78.75,146.30 V166.20 M74.95,146.30 h7.6 M74.95,166.20 h7.6" stroke="#00a400" stroke-width="2.5" fill="none"/>
<circle cx="78.75" cy="155.7" r="3.2" fill="#00a400"/>
<circle cx="58.33" cy="336.2" r="3.6" fill="#00a400"/>
<rect x="177.05" y="238.10" width="7.6" height="7.6" fill="#00a400"/>
<rect x="279.15" y="277.90" width="7.6" height="7.6" fill="#00a400"/>
<rect x="381.25" y="297.10" width="7.6" height="7.6" fill="#00a400"/>
<rect x="483.35" y="307.70" width="7.6" height="7.6" fill="#00a400"/>
<text x="79.15" y="364" text-anchor="middle" style="font-family:'Liberation Sans',sans-serif;font-size:16.2px;fill:#636363;stroke:#636363;stroke-width:0.7px">1.0</text>
<text x="181.25" y="364" text-anchor="middle" style="font-family:'Liberation Sans',sans-serif;font-size:16.2px;fill:#636363;stroke:#636363;stroke-width:0.7px">1.5</text>
<text x="283.35" y="364" text-anchor="middle" style="font-family:'Liberation Sans',sans-serif;font-size:16.2px;fill:#636363;stroke:#636363;stroke-width:0.7px">2.0</text>
<text x="385.45" y="364" text-anchor="middle" style="font-family:'Liberation Sans',sans-serif;font-size:16.2px;fill:#636363;stroke:#636363;stroke-width:0.7px">2.5</text>
<text x="487.55" y="364" text-anchor="middle" style="font-family:'Liberation Sans',sans-serif;font-size:16.2px;fill:#636363;stroke:#636363;stroke-width:0.7px">3.0</text>
<text x="22.7" y="342.15" text-anchor="end" style="font-family:'Liberation Sans',sans-serif;font-size:16.2px;fill:#636363;stroke:#636363;stroke-width:0.7px">0.0</text>
<text x="22.7" y="283.55" text-anchor="end" style="font-family:'Liberation Sans',sans-serif;font-size:16.2px;fill:#636363;stroke:#636363;stroke-width:0.7px">0.1</text>
<text x="22.7" y="224.95" text-anchor="end" style="font-family:'Liberation Sans',sans-serif;font-size:16.2px;fill:#636363;stroke:#636363;stroke-width:0.7px">0.2</text>
<text x="22.7" y="166.35" text-anchor="end" style="font-family:'Liberation Sans',sans-serif;font-size:16.2px;fill:#636363;stroke:#636363;stroke-width:0.7px">0.3</text>
<text x="22.7" y="107.75" text-anchor="end" style="font-family:'Liberation Sans',sans-serif;font-size:16.2px;fill:#636363;stroke:#636363;stroke-width:0.7px">0.4</text>
<text x="22.7" y="49.15" text-anchor="end" style="font-family:'Liberation Sans',sans-serif;font-size:16.2px;fill:#636363;stroke:#636363;stroke-width:0.7px">0.5</text>
<text x="286.9" y="394.1" style="font-family:'Liberation Sans',sans-serif;font-style:italic;font-weight:bold;font-size:15.2px;fill:#666;font-size:15.2px">T</text>
<text x="297.3" y="394.1" style="font-family:'Liberation Sans',sans-serif;font-style:italic;font-weight:bold;font-size:15.2px;fill:#666;font-size:15.2px">/</text>
<text x="302.9" y="394.1" style="font-family:'Liberation Sans',sans-serif;font-style:italic;font-weight:bold;font-size:15.2px;fill:#666;font-size:15.2px">T</text>
<text x="311.9" y="398.2" style="font-family:'Liberation Sans',sans-serif;font-style:italic;font-weight:bold;font-size:15.2px;fill:#666;font-size:14.6px">c</text>
<rect x="116.80" y="34.55" width="46.50" height="1.7" fill="#000"/>
<text transform="translate(116.90,62.70) scale(0.95,1)" style="font-family:'Liberation Sans',sans-serif;font-weight:bold;font-size:16.4px;fill:#000;stroke:#000;stroke-width:0.45px;stroke-linejoin:round;font-style:italic">N</text><text transform="translate(129.40,55.50) scale(0.92,1)" style="font-family:'Liberation Sans',sans-serif;font-weight:bold;font-size:15.0px;fill:#000;stroke:#000;stroke-width:0.15px;stroke-linejoin:round">2</text><text transform="translate(128.80,68.20) scale(0.95,1)" style="font-family:'Liberation Sans',sans-serif;font-weight:bold;font-size:15.9px;fill:#000;stroke:#000;stroke-width:0.4px;stroke-linejoin:round;font-style:italic">c</text><text transform="translate(143.90,62.70) scale(0.95,1)" style="font-family:'Liberation Sans',sans-serif;font-weight:bold;font-size:16.4px;fill:#000;stroke:#000;stroke-width:0.45px;stroke-linejoin:round;font-style:italic">T</text><text transform="translate(154.40,55.50) scale(0.92,1)" style="font-family:'Liberation Sans',sans-serif;font-weight:bold;font-size:15.0px;fill:#000;stroke:#000;stroke-width:0.15px;stroke-linejoin:round">4</text>
<text transform="translate(136.40,24.60) scale(0.95,1)" style="font-family:'Liberation Sans',sans-serif;font-weight:bold;font-size:16.4px;fill:#000;stroke:#000;stroke-width:0.45px;stroke-linejoin:round;font-style:italic">ϵ</text>
<rect x="300.75" y="112.40" width="46.25" height="1.7" fill="#000"/>
<text transform="translate(300.90,140.60) scale(0.95,1)" style="font-family:'Liberation Sans',sans-serif;font-weight:bold;font-size:16.4px;fill:#000;stroke:#000;stroke-width:0.45px;stroke-linejoin:round;font-style:italic">N</text><text transform="translate(313.40,133.40) scale(0.92,1)" style="font-family:'Liberation Sans',sans-serif;font-weight:bold;font-size:15.0px;fill:#000;stroke:#000;stroke-width:0.15px;stroke-linejoin:round">2</text><text transform="translate(312.80,146.10) scale(0.95,1)" style="font-family:'Liberation Sans',sans-serif;font-weight:bold;font-size:15.9px;fill:#000;stroke:#000;stroke-width:0.4px;stroke-linejoin:round;font-style:italic">c</text><text transform="translate(327.90,140.60) scale(0.95,1)" style="font-family:'Liberation Sans',sans-serif;font-weight:bold;font-size:16.4px;fill:#000;stroke:#000;stroke-width:0.45px;stroke-linejoin:round;font-style:italic">T</text><text transform="translate(338.40,133.40) scale(0.92,1)" style="font-family:'Liberation Sans',sans-serif;font-weight:bold;font-size:15.0px;fill:#000;stroke:#000;stroke-width:0.15px;stroke-linejoin:round">4</text>
<text transform="translate(310.00,102.70) scale(1,1)" style="font-family:'Liberation Sans',sans-serif;font-weight:bold;font-size:16.4px;fill:#000;stroke:#000;stroke-width:0.15px;stroke-linejoin:round">3</text>
<text transform="translate(328.20,102.80) scale(0.95,1)" style="font-family:'Liberation Sans',sans-serif;font-weight:bold;font-size:16.8px;fill:#000;stroke:#000;stroke-width:0.45px;stroke-linejoin:round;font-style:italic">p</text>
<rect x="480.50" y="258.65" width="54.25" height="1.7" fill="#000"/>
<text transform="translate(484.80,286.90) scale(0.95,1)" style="font-family:'Liberation Sans',sans-serif;font-weight:bold;font-size:16.4px;fill:#000;stroke:#000;stroke-width:0.45px;stroke-linejoin:round;font-style:italic">N</text><text transform="translate(497.30,279.70) scale(0.92,1)" style="font-family:'Liberation Sans',sans-serif;font-weight:bold;font-size:15.0px;fill:#000;stroke:#000;stroke-width:0.15px;stroke-linejoin:round">2</text><text transform="translate(496.70,292.40) scale(0.95,1)" style="font-family:'Liberation Sans',sans-serif;font-weight:bold;font-size:15.9px;fill:#000;stroke:#000;stroke-width:0.4px;stroke-linejoin:round;font-style:italic">c</text><text transform="translate(511.80,286.90) scale(0.95,1)" style="font-family:'Liberation Sans',sans-serif;font-weight:bold;font-size:16.4px;fill:#000;stroke:#000;stroke-width:0.45px;stroke-linejoin:round;font-style:italic">T</text><text transform="translate(522.30,279.70) scale(0.92,1)" style="font-family:'Liberation Sans',sans-serif;font-weight:bold;font-size:15.0px;fill:#000;stroke:#000;stroke-width:0.15px;stroke-linejoin:round">4</text>
<text transform="translate(481.00,248.60) scale(0.95,1)" style="font-family:'Liberation Sans',sans-serif;font-weight:bold;font-size:16.4px;fill:#000;stroke:#000;stroke-width:0.45px;stroke-linejoin:round;font-style:italic">ϵ</text>
<text transform="translate(493.50,248.60) scale(0.93,1)" style="font-family:'Liberation Sans',sans-serif;font-weight:bold;font-size:16.4px;fill:#000;stroke:#000;stroke-width:0.15px;stroke-linejoin:round">−</text>
<text transform="translate(506.30,248.60) scale(1,1)" style="font-family:'Liberation Sans',sans-serif;font-weight:bold;font-size:16.4px;fill:#000;stroke:#000;stroke-width:0.15px;stroke-linejoin:round">3</text>
<text transform="translate(525.40,248.70) scale(0.95,1)" style="font-family:'Liberation Sans',sans-serif;font-weight:bold;font-size:16.8px;fill:#000;stroke:#000;stroke-width:0.45px;stroke-linejoin:round;font-style:italic">p</text>
</svg>
</div>
</body></html>
